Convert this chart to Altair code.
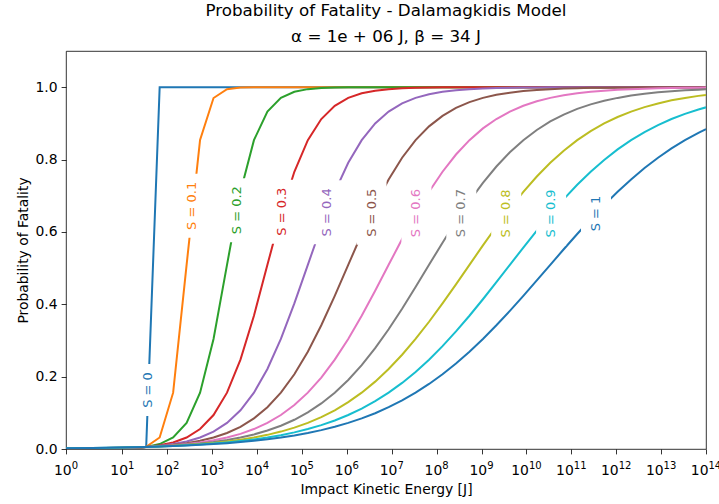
import math

import altair as alt
import pandas as pd

# Impact kinetic energies [J] at which the model was evaluated
energy = [1, 2.145, 4.28, 8.54, 17.04, 34, 67.84, 135.4, 270.1, 538.9,
          1075, 2145, 4280, 8540, 1.704e4, 3.4e4, 6.784e4, 1.354e5, 2.701e5, 5.389e5,
          1.075e6, 2.145e6, 4.28e6, 8.54e6, 1.704e7, 3.4e7, 6.784e7, 1.354e8, 2.701e8, 5.389e8,
          1.075e9, 2.145e9, 4.28e9, 8.54e9, 1.704e10, 3.4e10, 6.784e10, 1.354e11, 2.701e11, 5.389e11,
          1.075e12, 2.145e12, 4.28e12, 8.54e12, 1.704e13, 3.4e13, 6.784e13, 1e14]

# Sheltering factor S of each curve
s_levels = ["0", "0.1", "0.2", "0.3", "0.4", "0.5", "0.6", "0.7", "0.8", "0.9", "1"]

# Probability of fatality for each S
p_s00 = [0, 0, 0, 0, 0, 0.0058,
         1, 1, 1, 1, 1, 1, 1, 1, 1, 1,
         1, 1, 1, 1, 1, 1, 1, 1, 1, 1,
         1, 1, 1, 1, 1, 1, 1, 1, 1, 1,
         1, 1, 1, 1, 1, 1, 1, 1, 1, 1,
         1, 1]
p_s01 = [0, 0, 0, 0.0002, 0.001, 0.0058,
         0.0318, 0.1557, 0.509, 0.854, 0.970, 0.9946, 0.999, 1, 1, 1,
         1, 1, 1, 1, 1, 1, 1, 1, 1, 1,
         1, 1, 1, 1, 1, 1, 1, 1, 1, 1,
         1, 1, 1, 1, 1, 1, 1, 1, 1, 1,
         1, 1]
p_s02 = [0.0001, 0.0002, 0.0004, 0.001, 0.0025, 0.0058,
         0.0136, 0.0318, 0.0721, 0.1557, 0.3042, 0.509, 0.7109, 0.8536, 0.9326, 0.9704,
         0.9873, 0.9946, 0.9977, 0.999, 0.9996, 1, 1, 1, 1, 1,
         1, 1, 1, 1, 1, 1, 1, 1, 1, 1,
         1, 1, 1, 1, 1, 1, 1, 1, 1, 1,
         1, 1]
p_s03 = [0.0003, 0.0006, 0.001, 0.0018, 0.0033, 0.0058,
         0.0103, 0.0181, 0.0317, 0.0551, 0.0939, 0.1557, 0.2469, 0.3683, 0.509, 0.6484,
         0.7663, 0.8536, 0.912, 0.9486, 0.9704, 0.9831, 0.9904, 0.9946, 0.997, 0.9983,
         0.999, 0.9995, 0.9997, 1, 1, 1, 1, 1, 1, 1,
         1, 1, 1, 1, 1, 1, 1, 1, 1, 1,
         1, 1]
p_s04 = [0.0006, 0.001, 0.0016, 0.0025, 0.0038, 0.0058,
         0.0089, 0.0136, 0.0209, 0.0317, 0.0481, 0.0721, 0.1069, 0.1557, 0.2211, 0.3042,
         0.4024, 0.509, 0.6149, 0.7109, 0.7911, 0.8536, 0.8998, 0.9326, 0.9551, 0.9704,
         0.9806, 0.9873, 0.9917, 0.9946, 0.9965, 0.9977, 0.9985, 0.999, 0.9994, 0.9996,
         0.9997, 1, 1, 1, 1, 1, 1, 1, 1, 1,
         1, 1]
p_s05 = [0.001, 0.0015, 0.0021, 0.0029, 0.0041, 0.0058,
         0.0082, 0.0115, 0.0162, 0.0227, 0.0317, 0.0443, 0.0614, 0.0846, 0.1155, 0.1557,
         0.2066, 0.269, 0.342, 0.4234, 0.509, 0.5942, 0.6741, 0.745, 0.805, 0.8536,
         0.8917, 0.9208, 0.9426, 0.9587, 0.9704, 0.9789, 0.9849, 0.9893, 0.9924, 0.9946,
         0.9962, 0.9973, 0.9981, 0.9986, 0.999, 0.9993, 0.9995, 0.9997, 0.9998, 0.9998,
         0.9999, 0.9999]
p_s06 = [0.0013, 0.0018, 0.0025, 0.0033, 0.0044, 0.0058,
         0.0077, 0.0103, 0.0136, 0.0181, 0.024, 0.0317, 0.0419, 0.0551, 0.0721, 0.0939,
         0.1215, 0.1557, 0.1974, 0.2469, 0.3042, 0.3683, 0.4374, 0.509, 0.5803, 0.6484,
         0.7109, 0.7663, 0.8139, 0.8536, 0.8861, 0.912, 0.9326, 0.9486, 0.9609, 0.9704,
         0.9776, 0.9831, 0.9873, 0.9904, 0.9928, 0.9946, 0.9959, 0.997, 0.9977, 0.9983,
         0.9987, 0.9989]
p_s07 = [0.0017, 0.0022, 0.0028, 0.0036, 0.0045, 0.0058,
         0.0074, 0.0095, 0.0121, 0.0154, 0.0196, 0.025, 0.0317, 0.0403, 0.051, 0.0643,
         0.0808, 0.1012, 0.1259, 0.1557, 0.1909, 0.232, 0.2787, 0.3309, 0.3876, 0.4476,
         0.509, 0.5703, 0.6294, 0.6849, 0.7356, 0.7807, 0.82, 0.8536, 0.8818, 0.9052,
         0.9244, 0.9399, 0.9525, 0.9625, 0.9704, 0.9768, 0.9817, 0.9857, 0.9888, 0.9912,
         0.9931, 0.994]
p_s08 = [0.0019, 0.0025, 0.003, 0.0038, 0.0047, 0.0058,
         0.0072, 0.0089, 0.011, 0.0136, 0.0169, 0.0209, 0.0257, 0.0317, 0.0391, 0.0481,
         0.059, 0.0721, 0.088, 0.1069, 0.1294, 0.1557, 0.1862, 0.2211, 0.2605, 0.3042,
         0.3517, 0.4024, 0.4552, 0.509, 0.5627, 0.6149, 0.6646, 0.7109, 0.7531, 0.7911,
         0.8245, 0.8536, 0.8786, 0.8998, 0.9176, 0.9326, 0.9449, 0.9551, 0.9636, 0.9704,
         0.976, 0.9787]
p_s09 = [0.0022, 0.0027, 0.0033, 0.004, 0.0048, 0.0058,
         0.007, 0.0085, 0.0103, 0.0124, 0.015, 0.0181, 0.0219, 0.0264, 0.0317, 0.0382,
         0.0459, 0.0551, 0.066, 0.0788, 0.0939, 0.1116, 0.1321, 0.1557, 0.1826, 0.213,
         0.2469, 0.2843, 0.3249, 0.3683, 0.4139, 0.4611, 0.509, 0.5567, 0.6034, 0.6484,
         0.6907, 0.7302, 0.7663, 0.7989, 0.828, 0.8536, 0.876, 0.8953, 0.912, 0.9263,
         0.9383, 0.9443]
p_s10 = [0.0024, 0.0029, 0.0035, 0.0041, 0.0049, 0.0058,
         0.0069, 0.0082, 0.0097, 0.0115, 0.0136, 0.0162, 0.0192, 0.0227, 0.0269, 0.0317,
         0.0375, 0.0443, 0.0522, 0.0614, 0.0721, 0.0846, 0.0989, 0.1155, 0.1343, 0.1557,
         0.1798, 0.2066, 0.2363, 0.269, 0.3042, 0.342, 0.3818, 0.4234, 0.466, 0.509,
         0.552, 0.5942, 0.6351, 0.6741, 0.7109, 0.745, 0.7765, 0.805, 0.8307, 0.8536,
         0.8739, 0.8842]

curves = [p_s00, p_s01, p_s02, p_s03, p_s04, p_s05, p_s06, p_s07, p_s08, p_s09, p_s10]

# Where each inline curve label sits
label_energy = [38, 355, 3550, 3.55e4, 3.55e5, 3.55e6, 3.55e7, 3.55e8, 3.55e9, 3.55e10, 3.55e11]
label_prob = [0.163, 0.672, 0.66, 0.656, 0.654, 0.653, 0.652, 0.652, 0.651, 0.651, 0.651]

# Decade exponents shown on the energy axis
decades = list(range(15))

palette = ["#1f77b4", "#ff7f0e", "#2ca02c", "#d62728", "#9467bd", "#8c564b",
           "#e377c2", "#7f7f7f", "#bcbd22", "#17becf", "#1f77b4"]

rows = []
for s, probs in zip(s_levels, curves):
    assert len(probs) == len(energy), (s, len(probs))
    for e, p in zip(energy, probs):
        rows.append({"S": s, "E": e, "P": p})
lines_df = pd.DataFrame(rows)

labels_df = pd.DataFrame({
    "S": s_levels,
    "E": label_energy,
    "P": label_prob,
    "label": ["S = " + s for s in s_levels],
})

ticks_df = pd.DataFrame({
    "k": decades,
    "E": [10.0 ** k for k in decades],
    "base": ["10"] * len(decades),
    "exp": [str(k) for k in decades],
})

# Symmetric-log x axis (linear below 2 J, logarithmic above)
LINTHRESH = 2.0
LINSCALE = 1.0 / (1.0 - 1.0 / 10.0)


def symlog(v):
    if v <= LINTHRESH:
        return v / LINTHRESH * LINSCALE
    return LINSCALE + math.log10(v / LINTHRESH)


symlog_expr = (f"datum.E <= {LINTHRESH} ? datum.E / {LINTHRESH} * {LINSCALE} "
               f": {LINSCALE} + log(datum.E / {LINTHRESH}) / LN10")

FONT = "DejaVu Sans"
PLOT_W, PLOT_H = 640, 398

x_enc = alt.X(
    "xs:Q",
    scale=alt.Scale(domain=[symlog(1), symlog(1e14)], nice=False, zero=False),
    axis=alt.Axis(values=[symlog(10 ** k) for k in decades], labels=False,
                  title="Impact Kinetic Energy [J]", titlePadding=28),
)
y_enc = alt.Y(
    "P:Q",
    scale=alt.Scale(domain=[0, 1.1], nice=False),
    axis=alt.Axis(values=[0, 0.2, 0.4, 0.6, 0.8, 1.0], format=".1f",
                  title="Probability of Fatality"),
)
color_enc = alt.Color("S:N", scale=alt.Scale(domain=s_levels, range=palette), legend=None)

lines = alt.Chart(lines_df).transform_calculate(xs=symlog_expr).mark_line(
    strokeWidth=2, clip=True
).encode(x=x_enc, y=y_enc, color=color_enc, detail="S:N")

# White boxes behind the inline labels
long_box = "M-0.469,-1L0.469,-1L0.469,1L-0.469,1Z"
short_box = "M-0.577,-1L0.577,-1L0.577,1L-0.577,1Z"
long_test = "length(datum.label) > 5"

boxes = alt.Chart(labels_df).transform_calculate(xs=symlog_expr).mark_point(
    filled=True, fill="white", opacity=1, strokeWidth=0
).encode(
    x=x_enc, y=y_enc,
    shape=alt.condition(long_test, alt.value(long_box), alt.value(short_box)),
    size=alt.condition(long_test, alt.value(4096), alt.value(2704)),
)

texts = alt.Chart(labels_df).transform_calculate(xs=symlog_expr).mark_text(
    angle=270, align="center", baseline="middle", font=FONT, fontSize=13
).encode(x=x_enc, y=y_enc, text="label:N", color=color_enc)

# Decade tick labels written as 10 with a raised exponent
tick_base = alt.Chart(ticks_df).transform_calculate(xs=symlog_expr)


def decade_labels(test, shift):
    part = tick_base.transform_filter(test)
    base = part.mark_text(
        align="right", baseline="alphabetic", font=FONT, fontSize=13.9,
        color="black", dx=shift
    ).encode(x=x_enc, y=alt.value(PLOT_H + 26), text="base:N")
    power = part.mark_text(
        align="left", baseline="alphabetic", font=FONT, fontSize=10,
        color="black", dx=shift
    ).encode(x=x_enc, y=alt.value(PLOT_H + 20), text="exp:N")
    return [base, power]


tick_labels = decade_labels("datum.k < 10", 5.7) + decade_labels("datum.k >= 10", 2.5)

chart = alt.layer(lines, boxes, texts, *tick_labels).properties(
    width=PLOT_W,
    height=PLOT_H,
    autosize=alt.AutoSizeParams(type="none"),
    padding={"left": 66, "top": 51, "right": 13, "bottom": 55},
    title=alt.TitleParams(
        text=["Probability of Fatality - Dalamagkidis Model",
              "α = 1e + 06 J, β = 34 J"],
        font=FONT, fontSize=16.7, fontWeight="normal", color="black",
        anchor="middle", lineHeight=26, offset=5,
    ),
).configure_view(
    stroke="black", strokeWidth=0.8
).configure_axis(
    domain=False, grid=False,
    tickColor="black", tickWidth=0.8, tickSize=4.9,
    labelFont=FONT, labelFontSize=13.9, labelColor="black", labelPadding=4,
    titleFont=FONT, titleFontSize=13.9, titleFontWeight="normal", titleColor="black",
    titlePadding=5,
)

chart.save("out.html", embed_options={"renderer": "svg", "actions": False})
